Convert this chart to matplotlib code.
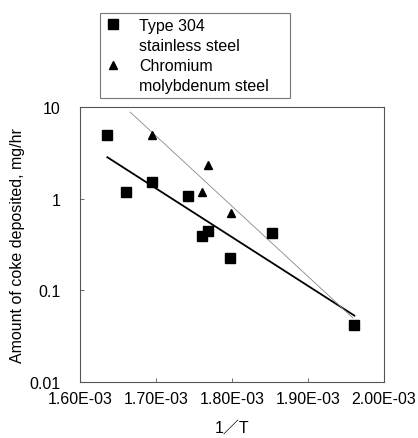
import numpy as np
import matplotlib
matplotlib.use("Agg")
import matplotlib.pyplot as plt
from matplotlib.lines import Line2D
from matplotlib.ticker import FixedLocator, FuncFormatter, NullLocator

plt.rcParams['font.family'] = ['Liberation Sans', 'Noto Sans CJK JP', 'DejaVu Sans']

# Type 304 stainless steel
ss_x = [1.636e-3, 1.661e-3, 1.695e-3, 1.742e-3, 1.7605e-3, 1.769e-3, 1.798e-3, 1.852e-3, 1.961e-3]
ss_y = [5.0, 1.19, 1.51, 1.08, 0.39, 0.44, 0.225, 0.42, 0.042]
# Chromium molybdenum steel
cm_x = [1.695e-3, 1.769e-3, 1.7605e-3, 1.799e-3]
cm_y = [5.0, 2.35, 1.17, 0.70]

# fitted lines (end points)
fit_ss_x = [1.636e-3, 1.961e-3]
fit_ss_y = [2.83, 0.053]
fit_cm_x = [1.666e-3, 1.959e-3]
fit_cm_y = [8.8, 0.05]

xticks = [1.6e-3, 1.7e-3, 1.8e-3, 1.9e-3, 2.0e-3]
yticks = [0.01, 0.1, 1, 10]
ylabels = ['0.01', '0.1', '1', '10']

fs = 11.5

fig = plt.figure(figsize=(4.18, 4.39), dpi=100)
ax = fig.add_axes([0.1914, 0.1276, 0.7273, 0.6264])

ax.plot(fit_ss_x, fit_ss_y, color='black', lw=1.3, zorder=2)
ax.plot(fit_cm_x, fit_cm_y, color='#888888', lw=0.6, zorder=2)
h1, = ax.plot(ss_x, ss_y, 's', color='black', ms=6.5, ls='none', zorder=3)
h2, = ax.plot(cm_x, cm_y, '^', color='black', ms=6, ls='none', zorder=3)

ax.set_yscale('log')
ax.set_xlim(1.6e-3, 2.0e-3)
ax.set_ylim(0.01, 10)
ax.yaxis.set_major_locator(FixedLocator(yticks))
ax.yaxis.set_minor_locator(NullLocator())
ax.set_yticklabels(ylabels)
ax.set_xticks(xticks)
ax.xaxis.set_major_formatter(FuncFormatter(lambda v, p: '%.2fE-03' % (v * 1e3)))
ax.tick_params(direction='in', length=3, width=0.6, color='#555555', labelsize=fs)
ax.tick_params(axis='y', pad=14)
ax.tick_params(axis='x', pad=6.5)
for s in ax.spines.values():
    s.set_color('#555555')
    s.set_linewidth(0.8)

ax.set_ylabel('Amount of coke deposited, mg/hr', fontsize=fs, labelpad=3)
ax.set_xlabel('1／T', fontsize=fs, labelpad=10)

blank = Line2D([], [], ls='none', marker=None)
leg = fig.legend(handles=[h1, blank, h2, blank],
                 labels=['Type 304', 'stainless steel', 'Chromium', 'molybdenum steel'],
                 loc='lower left',
                 bbox_to_anchor=(0.239, 0.7745, 0.4545, 0.1955), mode='expand',
                 fontsize=fs, frameon=True, fancybox=False, edgecolor='#555555',
                 borderaxespad=0, handletextpad=1.15, labelspacing=0.32,
                 handlelength=1.0, borderpad=0.3)
leg.get_frame().set_linewidth(0.8)

fig.savefig('out.png', dpi=100)
